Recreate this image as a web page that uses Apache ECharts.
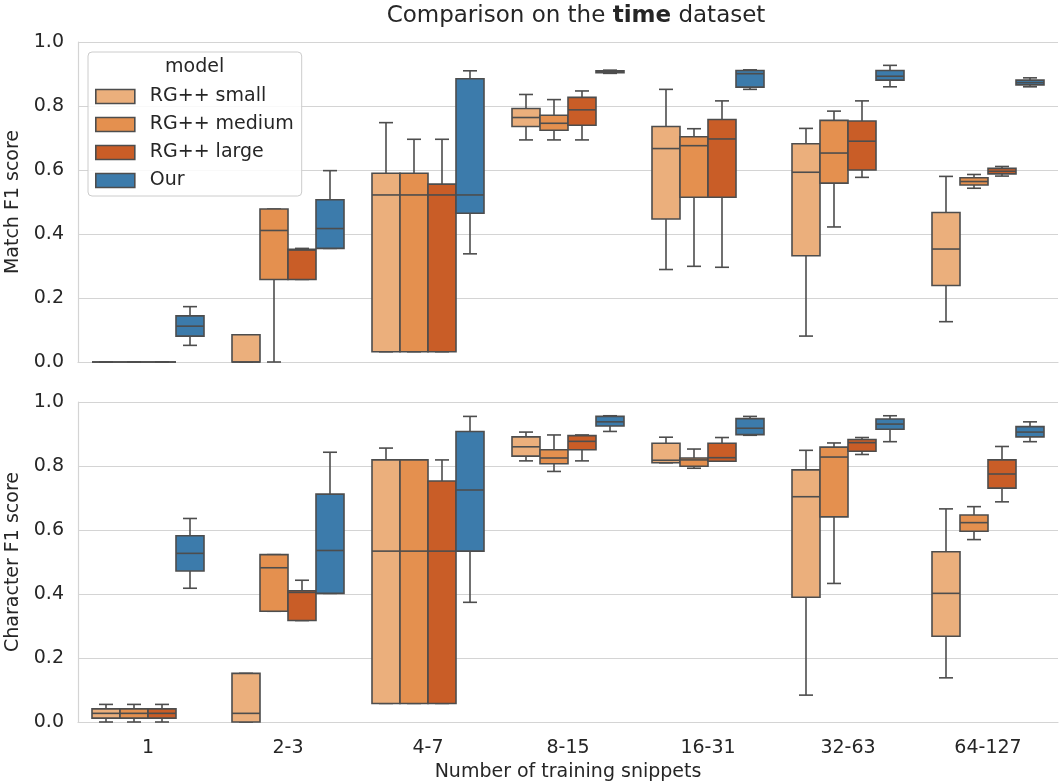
<!DOCTYPE html>
<html style="height: 100%">
<head>
    <meta charset="UTF-8">
    <title>Comparison on the time dataset</title>
    <script src="https://cdn.jsdelivr.net/npm/echarts@6/dist/echarts.min.js"></script>
</head>
<body style="height: 100%; margin: 0">
    <div id="main" style="width: 1060px; height: 784px"></div>
    <script type="text/javascript">
        var categories = ['1', '2-3', '4-7', '8-15', '16-31', '32-63', '64-127'];
        var models = ['RG++ small', 'RG++ medium', 'RG++ large', 'Our'];
        var colors = ['#ebaf7c', '#e4904f', '#c95d27', '#3c7bab'];
        var yTicks = [0, 0.2, 0.4, 0.6, 0.8, 1.0];

        // one row per category: [min, q1, median, q3, max]
        var matchSmall = [
            [0, 0, 0, 0, 0], [0, 0, 0, 0.085, 0.085], [0.032, 0.032, 0.522, 0.59, 0.748],
            [0.694, 0.736, 0.764, 0.792, 0.836], [0.289, 0.447, 0.667, 0.736, 0.852],
            [0.081, 0.332, 0.593, 0.682, 0.73], [0.126, 0.239, 0.353, 0.467, 0.58]
        ];
        var matchMedium = [
            [0, 0, 0, 0, 0], [0, 0.258, 0.411, 0.478, 0.478], [0.032, 0.032, 0.522, 0.59, 0.696],
            [0.694, 0.724, 0.746, 0.771, 0.82], [0.299, 0.515, 0.676, 0.704, 0.729],
            [0.422, 0.559, 0.653, 0.755, 0.784], [0.543, 0.553, 0.564, 0.576, 0.586]
        ];
        var matchLarge = [
            [0, 0, 0, 0, 0], [0.258, 0.258, 0.35, 0.352, 0.355], [0.032, 0.032, 0.522, 0.556, 0.696],
            [0.694, 0.74, 0.788, 0.827, 0.847], [0.296, 0.515, 0.697, 0.758, 0.816],
            [0.577, 0.6, 0.69, 0.753, 0.816], [0.581, 0.588, 0.596, 0.605, 0.611]
        ];
        var matchOur = [
            [0.052, 0.081, 0.112, 0.144, 0.173], [0.355, 0.355, 0.417, 0.507, 0.598],
            [0.338, 0.465, 0.522, 0.885, 0.91], [0.902, 0.904, 0.907, 0.91, 0.912],
            [0.852, 0.859, 0.901, 0.911, 0.913], [0.86, 0.881, 0.893, 0.911, 0.927],
            [0.86, 0.866, 0.873, 0.881, 0.888]
        ];

        var charSmall = [
            [0, 0.012, 0.027, 0.041, 0.055], [0, 0, 0.027, 0.152, 0.152], [0.058, 0.058, 0.534, 0.819, 0.856],
            [0.816, 0.831, 0.86, 0.891, 0.906], [0.81, 0.81, 0.818, 0.871, 0.89],
            [0.084, 0.39, 0.704, 0.788, 0.849], [0.138, 0.268, 0.402, 0.532, 0.666]
        ];
        var charMedium = [
            [0, 0.012, 0.027, 0.041, 0.055], [0.346, 0.346, 0.482, 0.523, 0.523], [0.058, 0.058, 0.534, 0.819, 0.819],
            [0.783, 0.807, 0.825, 0.851, 0.897], [0.793, 0.799, 0.819, 0.825, 0.853],
            [0.433, 0.641, 0.828, 0.859, 0.872], [0.57, 0.596, 0.623, 0.647, 0.673]
        ];
        var charLarge = [
            [0, 0.012, 0.027, 0.041, 0.055], [0.317, 0.317, 0.405, 0.41, 0.443], [0.058, 0.058, 0.534, 0.753, 0.819],
            [0.816, 0.851, 0.877, 0.895, 0.897], [0.815, 0.815, 0.826, 0.871, 0.889],
            [0.836, 0.846, 0.873, 0.883, 0.889], [0.688, 0.731, 0.775, 0.819, 0.861]
        ];
        var charOur = [
            [0.418, 0.472, 0.527, 0.582, 0.636], [0.402, 0.402, 0.536, 0.712, 0.843],
            [0.374, 0.534, 0.725, 0.908, 0.955], [0.908, 0.925, 0.938, 0.955, 0.957],
            [0.896, 0.898, 0.918, 0.948, 0.955], [0.876, 0.915, 0.931, 0.947, 0.957],
            [0.876, 0.891, 0.906, 0.923, 0.938]
        ];

        var lineColor = '#4d4d4d';
        var textColor = '#262626';
        var gridColor = '#d4d4d4';
        var font = 'DejaVu Sans';

        // box drawn like seaborn: 4 boxes side by side, caps half the box width
        function makeRender(k) {
            return function (params, api) {
                var cat = api.value(0);
                var band = api.size([1, 0])[0];
                var w = band * 0.8 / 4;
                var cx = api.coord([cat, 0])[0] + (k - 1.5) * w;
                var y = [1, 2, 3, 4, 5].map(function (i) {
                    return api.coord([cat, api.value(i)])[1];
                });
                var half = w / 2, cap = w / 4;
                var ls = { stroke: lineColor, lineWidth: 1.6 };
                return {
                    type: 'group',
                    children: [
                        { type: 'line', shape: { x1: cx, y1: y[0], x2: cx, y2: y[1] }, style: ls },
                        { type: 'line', shape: { x1: cx, y1: y[3], x2: cx, y2: y[4] }, style: ls },
                        { type: 'line', shape: { x1: cx - cap, y1: y[0], x2: cx + cap, y2: y[0] }, style: ls },
                        { type: 'line', shape: { x1: cx - cap, y1: y[4], x2: cx + cap, y2: y[4] }, style: ls },
                        {
                            type: 'rect',
                            shape: { x: cx - half, y: y[3], width: w, height: y[1] - y[3] },
                            style: { fill: api.visual('color'), stroke: lineColor, lineWidth: 1.6 }
                        },
                        { type: 'line', shape: { x1: cx - half, y1: y[2], x2: cx + half, y2: y[2] }, style: ls }
                    ]
                };
            };
        }

        function makeSeries(rows, k, panel) {
            return {
                type: 'custom',
                name: models[k],
                xAxisIndex: panel,
                yAxisIndex: panel,
                itemStyle: { color: colors[k] },
                encode: { x: 0, y: [1, 2, 3, 4, 5] },
                data: rows.map(function (r, i) { return [i].concat(r); }),
                renderItem: makeRender(k)
            };
        }

        function xAxisFor(panel, showLabels) {
            return {
                type: 'category',
                gridIndex: panel,
                data: categories,
                axisTick: { show: false },
                axisLine: { show: true, lineStyle: { color: gridColor, width: 1.2 } },
                axisLabel: { show: showLabels, fontSize: 19, color: textColor, fontFamily: font, margin: 17 },
                name: showLabels ? 'Number of training snippets' : '',
                nameLocation: 'middle',
                nameGap: 41,
                nameTextStyle: { fontSize: 19, color: textColor, fontFamily: font }
            };
        }

        function yAxisFor(panel, name) {
            return {
                type: 'value',
                gridIndex: panel,
                min: yTicks[0],
                max: yTicks[yTicks.length - 1],
                interval: 0.2,
                name: name,
                nameLocation: 'middle',
                nameGap: 49,
                nameTextStyle: { fontSize: 19, color: textColor, fontFamily: font },
                axisLine: { show: true, lineStyle: { color: gridColor, width: 1.2 } },
                axisTick: { show: false },
                splitLine: { lineStyle: { color: gridColor, width: 1.2 } },
                axisLabel: {
                    fontSize: 19, color: textColor, fontFamily: font, margin: 14,
                    formatter: function (v) { return v.toFixed(1); }
                }
            };
        }

        var myChart = echarts.init(document.getElementById('main'));

        var option = {
            backgroundColor: '#ffffff',
            animation: false,
            title: {
                text: '{a|Comparison on the }{b|time}{a| dataset}',
                left: 571,
                textAlign: 'center',
                top: 0,
                textStyle: {
                    fontWeight: 'normal',
                    rich: {
                        a: { fontSize: 23, color: textColor, fontFamily: font, fontWeight: 'normal' },
                        b: { fontSize: 23, color: textColor, fontFamily: font, fontWeight: 'bold' }
                    }
                }
            },
            legend: {
                data: models,
                orient: 'vertical',
                left: 88,
                top: 52,
                icon: 'rect',
                itemWidth: 39,
                itemHeight: 14,
                itemGap: 9,
                padding: [35, 8, 6, 7],
                backgroundColor: 'rgba(255,255,255,0.85)',
                borderColor: '#cccccc',
                borderWidth: 1,
                borderRadius: 4,
                itemStyle: { borderColor: lineColor, borderWidth: 1.6 },
                textStyle: { fontSize: 19, color: textColor, fontFamily: font, padding: [0, 0, 0, 10] }
            },
            graphic: [{
                type: 'text',
                left: 165,
                top: 58,
                z: 100,
                style: { text: 'model', fontSize: 19, fill: textColor, fontFamily: font }
            }],
            grid: [
                { left: 78, right: 2, top: 42, height: 320, outerBoundsMode: 'none' },
                { left: 78, right: 2, top: 402, height: 320, outerBoundsMode: 'none' }
            ],
            xAxis: [xAxisFor(0, false), xAxisFor(1, true)],
            yAxis: [yAxisFor(0, 'Match F1 score'), yAxisFor(1, 'Character F1 score')],
            series: [
                makeSeries(matchSmall, 0, 0),
                makeSeries(matchMedium, 1, 0),
                makeSeries(matchLarge, 2, 0),
                makeSeries(matchOur, 3, 0),
                makeSeries(charSmall, 0, 1),
                makeSeries(charMedium, 1, 1),
                makeSeries(charLarge, 2, 1),
                makeSeries(charOur, 3, 1)
            ]
        };

        myChart.setOption(option);
    </script>
</body>
</html>
